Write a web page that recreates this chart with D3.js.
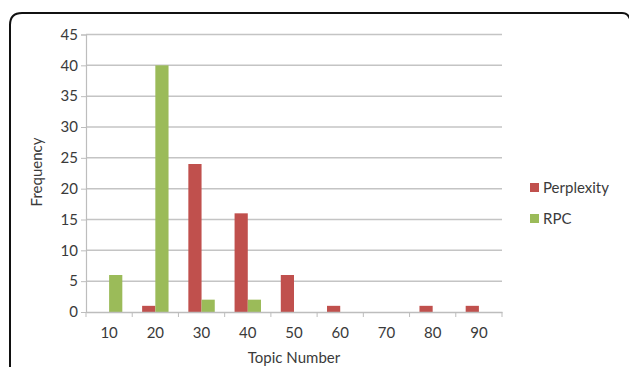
<!DOCTYPE html>
<html><head><meta charset="utf-8">
<script src="https://cdn.jsdelivr.net/npm/d3@7"></script>
<style>body{margin:0;background:#fff;}svg{display:block;font-family:Lato,"Open Sans",sans-serif;}</style>
</head><body>
<svg id="chart" width="629" height="367"></svg>
<script>
const categories = ["10","20","30","40","50","60","70","80","90"];
const perplexity = [0,1,24,16,6,1,0,1,1];
const rpc = [6,40,2,2,0,0,0,0,0];
const yTicks = [0,5,10,15,20,25,30,35,40,45];
const seriesNames = ["Perplexity","RPC"];
const seriesColors = ["#C0504D","#9BBB59"];
const FS = 15;
const TXT = "#3a3a3a";

const svg = d3.select("#chart");
// frame
svg.append("path")
  .attr("d","M10,380 L10,25 Q10,13 22,13 L622,13 Q628,13 630,19")
  .attr("fill","none").attr("stroke","#111").attr("stroke-width",2);

const m = {left:86, right:502, top:34.5, bottom:312};
const x = d3.scaleBand().domain(categories).range([m.left,m.right]);
const y = d3.scaleLinear().domain([0,45]).range([m.bottom,m.top]);

// gridlines
svg.append("g").selectAll("line").data(yTicks.filter(d=>d>0)).join("line")
  .attr("x1",m.left).attr("x2",m.right)
  .attr("y1",d=>y(d)).attr("y2",d=>y(d))
  .attr("stroke","#c4c4c4").attr("stroke-width",1.5);

// y axis
const ya = svg.append("g").attr("transform",`translate(${m.left},0)`)
  .call(d3.axisLeft(y).tickValues(yTicks).tickSize(5).tickPadding(3));
ya.select(".domain").attr("stroke","#bdbdbd").attr("stroke-width",1.2);
ya.selectAll(".tick line").attr("stroke","#bdbdbd");
ya.selectAll("text").attr("font-size",FS).attr("fill",TXT).attr("font-family","Lato,sans-serif");

// bars
const bw = x.bandwidth()/3.5;
const data = categories.map((c,i)=>({c, vals:[perplexity[i], rpc[i]]}));
seriesNames.forEach((s,si)=>{
  svg.append("g").selectAll("rect").data(data).join("rect")
    .attr("x",d=>x(d.c)+x.bandwidth()/2 - bw + si*bw)
    .attr("width",bw)
    .attr("y",d=>y(d.vals[si]))
    .attr("height",d=>m.bottom - y(d.vals[si]))
    .attr("fill",seriesColors[si]);
});

// x axis
const xa = svg.append("g").attr("transform",`translate(0,${m.bottom})`)
  .call(d3.axisBottom(x).tickSize(0).tickPadding(15));
xa.select(".domain").attr("stroke","#bdbdbd").attr("stroke-width",1.5);
xa.selectAll("text").attr("font-size",FS).attr("fill",TXT).attr("font-family","Lato,sans-serif");
// boundary ticks
const bounds = categories.map(c=>x(c)).concat([m.right]);
svg.append("g").selectAll("line").data(bounds).join("line")
  .attr("x1",d=>d).attr("x2",d=>d).attr("y1",m.bottom).attr("y2",m.bottom+5)
  .attr("stroke","#bdbdbd");

// axis titles
svg.append("text").attr("x",294).attr("y",363)
  .attr("text-anchor","middle").attr("font-size",FS).attr("fill",TXT).text("Topic Number");
svg.append("text").attr("transform",`translate(42,172) rotate(-90)`)
  .attr("text-anchor","middle").attr("font-size",FS).attr("fill",TXT).text("Frequency");

// legend
const lg = svg.append("g");
seriesNames.forEach((s,i)=>{
  const yy = 187 + i*31;
  lg.append("rect").attr("x",530).attr("y",yy-4).attr("width",9).attr("height",9).attr("fill",seriesColors[i]);
  lg.append("text").attr("x",543).attr("y",yy+6).attr("font-size",FS).attr("fill",TXT).text(s);
});
</script>
</body></html>
